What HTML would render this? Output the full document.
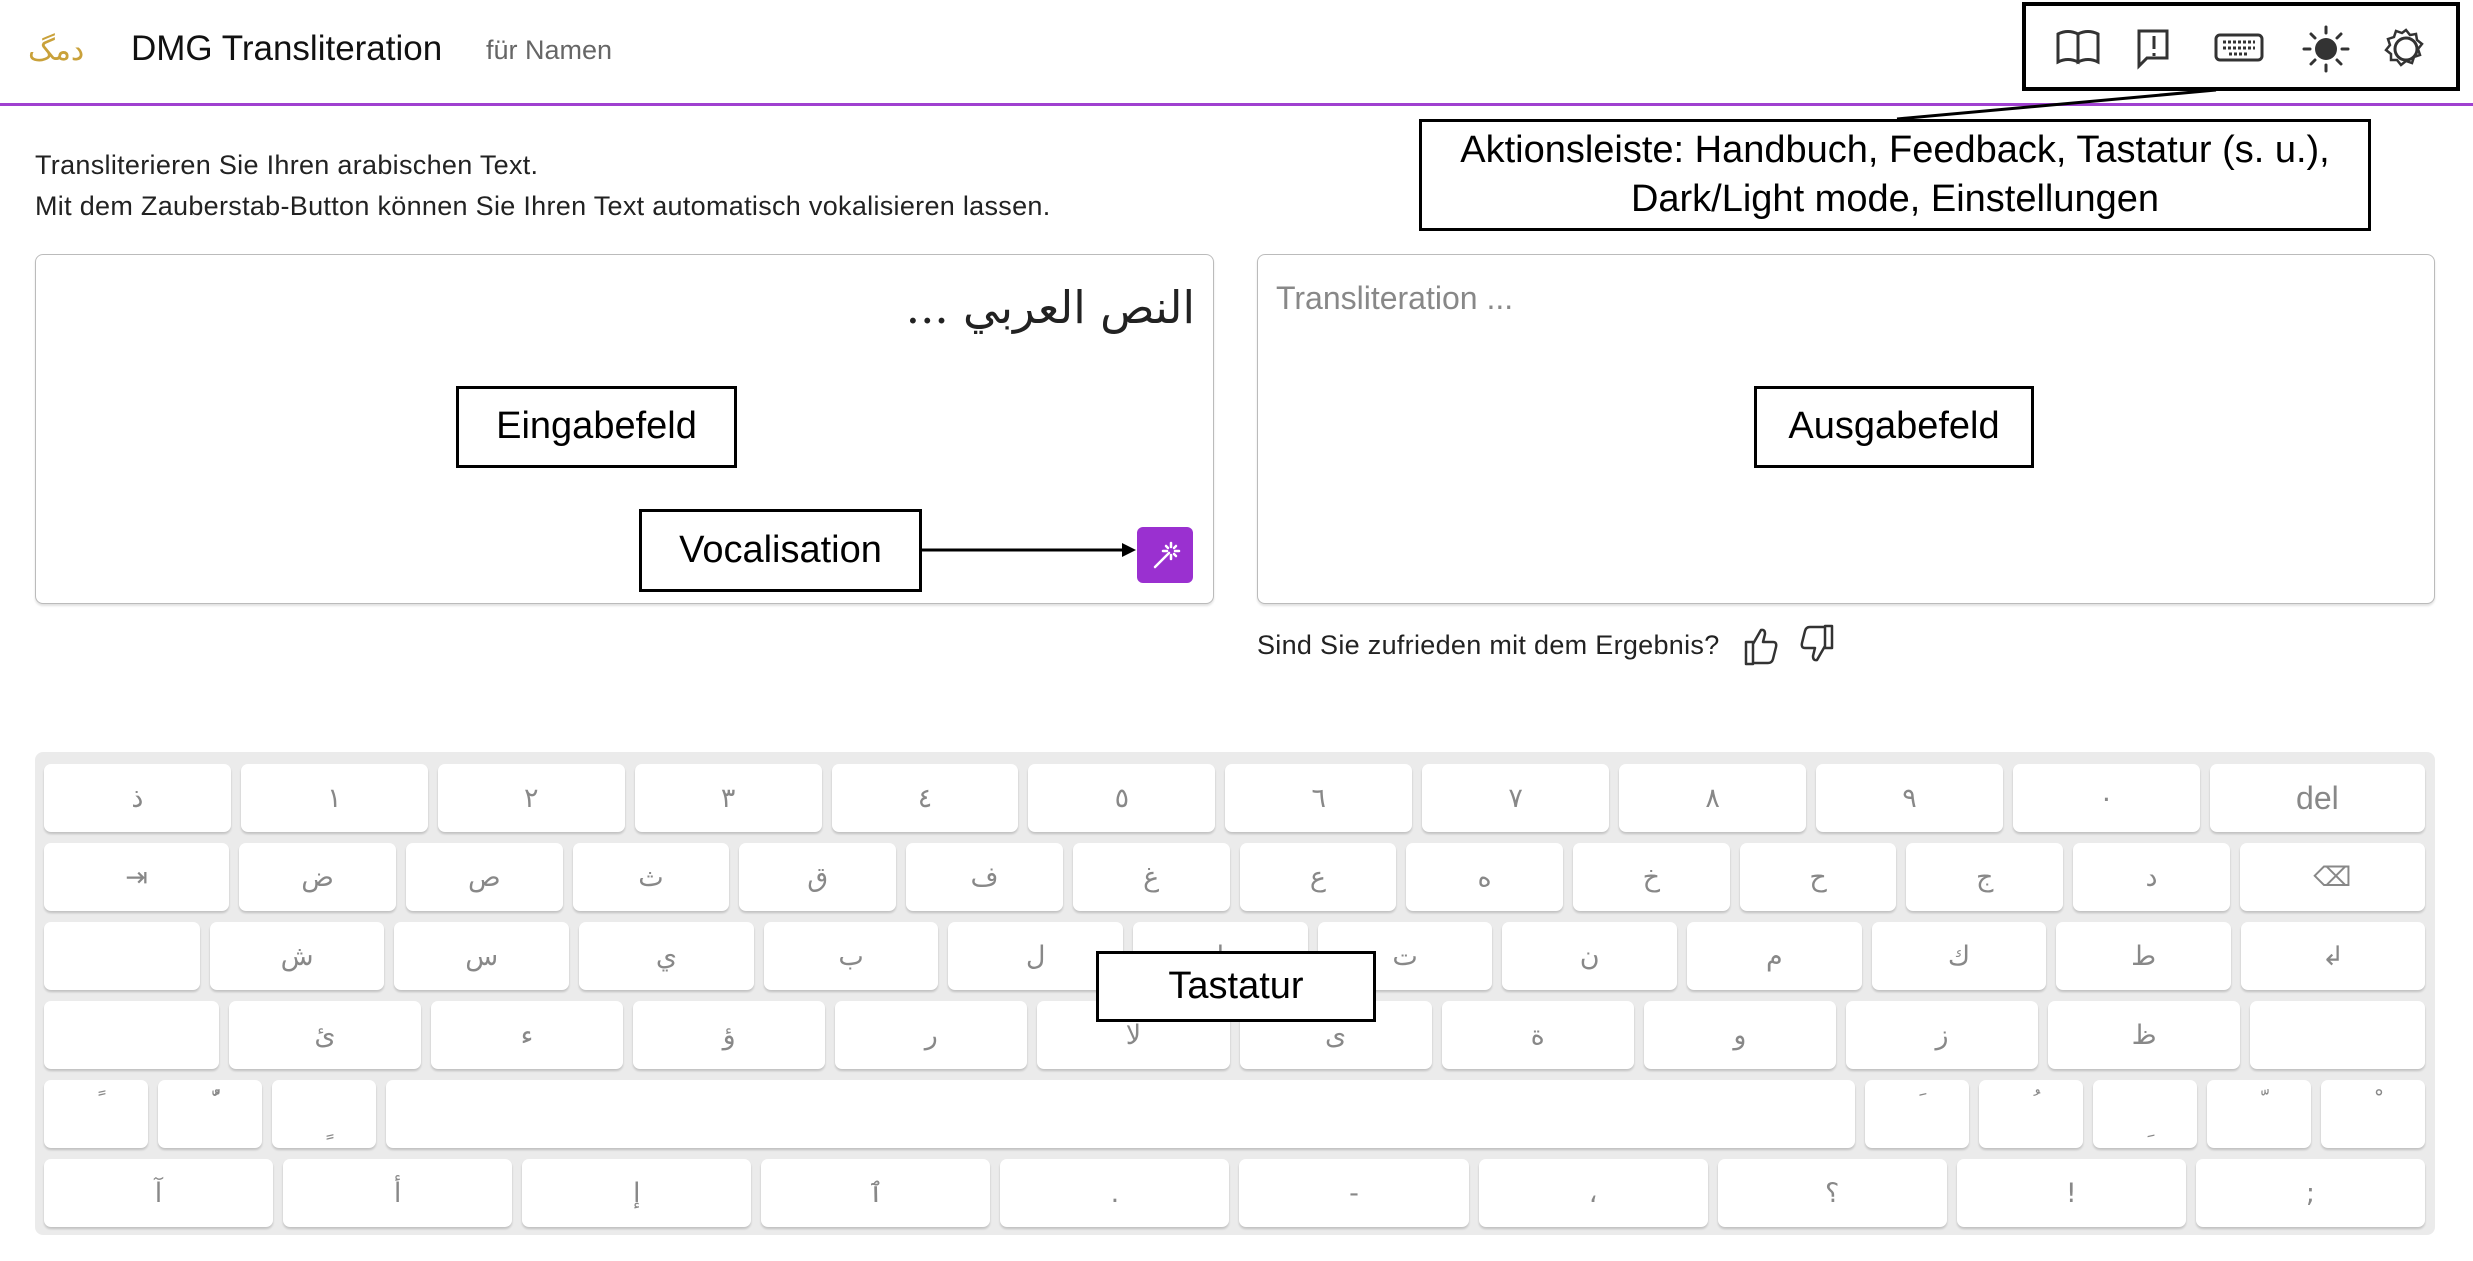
<!DOCTYPE html>
<html><head><meta charset="utf-8">
<style>
*{box-sizing:border-box;margin:0;padding:0}
body{width:2473px;height:1261px;background:#fff;position:relative;overflow:hidden;font-family:"Liberation Sans","DejaVu Sans",sans-serif;color:#222}
.abs{position:absolute}
.box{position:absolute;border:3px solid #000;background:#fff;display:flex;align-items:center;justify-content:center;font-size:38px;color:#000;text-align:center;line-height:1.3}
.field{position:absolute;border:1.5px solid #bbb;border-radius:8px;background:#fff;box-shadow:0 2px 2px rgba(0,0,0,.12)}
#kb{position:absolute;left:35px;top:752px;width:2400px;height:483px;background:#ebebeb;border-radius:8px;padding:12px 10px 0 9px}
.row{display:flex;gap:10px;height:68px;margin-bottom:11px}
.k{background:#fff;border-radius:7px;box-shadow:0 2px 2px rgba(0,0,0,.18);display:flex;align-items:center;justify-content:center;font-family:"DejaVu Sans",sans-serif;font-size:27px;color:#888;flex-basis:0}
.t{align-items:flex-start;padding-top:8px;font-size:24px}
.b{align-items:flex-end;padding-bottom:8px;font-size:24px}
</style></head><body>

<!-- header -->
<div class="abs" style="left:28px;top:34px;font-family:'DejaVu Sans';font-size:30px;color:#c9a13a;line-height:34px">دمگ</div>
<div class="abs" style="left:131px;top:28px;font-size:35px;color:#111;line-height:42px">DMG Transliteration</div>
<div class="abs" style="left:486px;top:34px;font-size:27px;color:#666;line-height:32px">für Namen</div>
<div class="abs" style="left:0;top:103px;width:2473px;height:3px;background:#a040d0"></div>

<!-- action bar -->
<div class="abs" style="left:2022px;top:2px;width:438px;height:89px;border:4px solid #000"></div>
<svg class="abs" style="left:2022px;top:2px" width="438" height="89" viewBox="0 0 438 89">
 <g fill="none" stroke="#333" stroke-width="3">
  <path d="M36 32 q10-5 20 0 v28 q-10-5-20 0z M56 32 q10-5 20 0 v28 q-10-5-20 0z"/>
  <path d="M117 29 h28 v27 h-20 l-8 8z"/>
  <path d="M132 34 v13 M132 51 v3"/>
  <rect x="194" y="33" width="46" height="25" rx="4"/>
  <path d="M201 40 h32 M201 46 h32 M207 52 h20" stroke-dasharray="3 2"/>
  <circle cx="384" cy="47" r="11"/>
  <path d="M384 28 l4 5 6-1 1 6 5 4-4 5 2 6-6 2-2 6-6-2-5 4-4-5-6 0 0-6-5-4 4-5-2-6 6-2 2-6 6 2z" stroke-width="2.5"/>
 </g>
 <circle cx="304" cy="47" r="11" fill="#333"/>
 <g stroke="#333" stroke-width="3" stroke-linecap="round">
  <path d="M304 25v6 M304 63v6 M282 47h6 M320 47h6 M289 32l4 4 M315 58l4 4 M289 62l4-4 M315 36l4-4"/>
 </g>
</svg>
<svg class="abs" style="left:0;top:0" width="2473" height="140"><line x1="2216" y1="90" x2="1897" y2="119" stroke="#000" stroke-width="3"/></svg>
<div class="box" style="left:1419px;top:119px;width:952px;height:112px">Aktionsleiste: Handbuch, Feedback, Tastatur (s. u.),<br>Dark/Light mode, Einstellungen</div>

<!-- intro -->
<div class="abs" style="left:35px;top:145px;font-size:27px;letter-spacing:0.3px;color:#222;line-height:41px">Transliterieren Sie Ihren arabischen Text.<br>Mit dem Zauberstab-Button können Sie Ihren Text automatisch vokalisieren lassen.</div>

<!-- input field -->
<div class="field" style="left:35px;top:254px;width:1179px;height:350px"></div>
<div class="abs" style="right:1278px;top:278px;font-family:'DejaVu Serif','DejaVu Sans',serif;font-size:45px;color:#222;direction:rtl;line-height:60px">النص العربي ...</div>
<div class="box" style="left:456px;top:386px;width:281px;height:82px">Eingabefeld</div>
<div class="box" style="left:639px;top:509px;width:283px;height:83px">Vocalisation</div>
<svg class="abs" style="left:920px;top:538px" width="220" height="24"><line x1="0" y1="12" x2="205" y2="12" stroke="#000" stroke-width="3"/><path d="M216 12 L202 5 L202 19z" fill="#000"/></svg>
<div class="abs" style="left:1137px;top:527px;width:56px;height:56px;background:#9a30d0;border-radius:6px"></div>
<svg class="abs" style="left:1137px;top:527px" width="56" height="56"><g stroke="#fff" stroke-width="2.5" stroke-linecap="round"><path d="M18 40 L32 26"/><path d="M34 16v4 M34 28v4 M26 24h4 M38 24h4 M29 19l2 2 M39 19l-2 2 M39 29l-2-2"/></g></svg>

<!-- output field -->
<div class="field" style="left:1257px;top:254px;width:1178px;height:350px"></div>
<div class="abs" style="left:1276px;top:278px;font-size:32px;color:#888;line-height:40px">Transliteration ...</div>
<div class="box" style="left:1754px;top:386px;width:280px;height:82px">Ausgabefeld</div>

<div class="abs" style="left:1257px;top:629px;font-size:27px;letter-spacing:0.3px;color:#222;line-height:32px">Sind Sie zufrieden mit dem Ergebnis?</div>
<svg class="abs" style="left:1740px;top:620px" width="100" height="50"><g fill="none" stroke="#333" stroke-width="2.5" stroke-linejoin="round">
<path d="M6 22 h7 v22 h-7z M13 24 l8-14 q4-1 4 4 l-2 8 h10 q4 0 3 5 l-3 12 q-1 4-5 4 h-15"/>
<path d="M92 28 h-7 v-22 h7z M85 26 l-8 14 q-4 1-4-4 l2-8 h-10 q-4 0-3-5 l3-12 q1-4 5-4 h15"/></g></svg>

<!-- keyboard -->
<div id="kb">
 <div class="row">
  <div class="k" style="flex-grow:119">ذ</div><div class="k" style="flex-grow:119">١</div><div class="k" style="flex-grow:119">٢</div><div class="k" style="flex-grow:119">٣</div><div class="k" style="flex-grow:119">٤</div><div class="k" style="flex-grow:119">٥</div><div class="k" style="flex-grow:119">٦</div><div class="k" style="flex-grow:119">٧</div><div class="k" style="flex-grow:119">٨</div><div class="k" style="flex-grow:119">٩</div><div class="k" style="flex-grow:119">٠</div><div class="k" style="flex-grow:137;font-family:'Liberation Sans';font-size:32px">del</div>
 </div>
 <div class="row">
  <div class="k" style="flex-grow:117">⇥</div><div class="k" style="flex-grow:99">ض</div><div class="k" style="flex-grow:99">ص</div><div class="k" style="flex-grow:99">ث</div><div class="k" style="flex-grow:99">ق</div><div class="k" style="flex-grow:99">ف</div><div class="k" style="flex-grow:99">غ</div><div class="k" style="flex-grow:99">ع</div><div class="k" style="flex-grow:99">ه</div><div class="k" style="flex-grow:99">خ</div><div class="k" style="flex-grow:99">ح</div><div class="k" style="flex-grow:99">ج</div><div class="k" style="flex-grow:99">د</div><div class="k" style="flex-grow:117">⌫</div>
 </div>
 <div class="row">
  <div class="k" style="flex-grow:99"></div><div class="k" style="flex-grow:111">ش</div><div class="k" style="flex-grow:111">س</div><div class="k" style="flex-grow:111">ي</div><div class="k" style="flex-grow:111">ب</div><div class="k" style="flex-grow:111">ل</div><div class="k" style="flex-grow:111">ا</div><div class="k" style="flex-grow:111">ت</div><div class="k" style="flex-grow:111">ن</div><div class="k" style="flex-grow:111">م</div><div class="k" style="flex-grow:111">ك</div><div class="k" style="flex-grow:111">ط</div><div class="k" style="flex-grow:117">↲</div>
 </div>
 <div class="row">
  <div class="k" style="flex-grow:111"></div><div class="k" style="flex-grow:122">ئ</div><div class="k" style="flex-grow:122">ء</div><div class="k" style="flex-grow:122">ؤ</div><div class="k" style="flex-grow:122">ر</div><div class="k" style="flex-grow:122">لا</div><div class="k" style="flex-grow:122">ى</div><div class="k" style="flex-grow:122">ة</div><div class="k" style="flex-grow:122">و</div><div class="k" style="flex-grow:122">ز</div><div class="k" style="flex-grow:122">ظ</div><div class="k" style="flex-grow:111"></div>
 </div>
 <div class="row">
  <div class="k t" style="flex-grow:66">ً</div><div class="k t" style="flex-grow:66">ٌّ</div><div class="k b" style="flex-grow:66">ٍ</div><div class="k" style="flex-grow:932"></div><div class="k t" style="flex-grow:66">َ</div><div class="k t" style="flex-grow:66">ُ</div><div class="k b" style="flex-grow:66">ِ</div><div class="k t" style="flex-grow:66">ّ</div><div class="k t" style="flex-grow:66">ْ</div>
 </div>
 <div class="row">
  <div class="k" style="flex-grow:145">آ</div><div class="k" style="flex-grow:145">أ</div><div class="k" style="flex-grow:145">إ</div><div class="k" style="flex-grow:145">ٱ</div><div class="k" style="flex-grow:145">.</div><div class="k" style="flex-grow:145">-</div><div class="k" style="flex-grow:145">،</div><div class="k" style="flex-grow:145">؟</div><div class="k" style="flex-grow:145">!</div><div class="k" style="flex-grow:145">;</div>
 </div>
</div>
<div class="box" style="left:1096px;top:951px;width:280px;height:71px">Tastatur</div>
</body></html>
